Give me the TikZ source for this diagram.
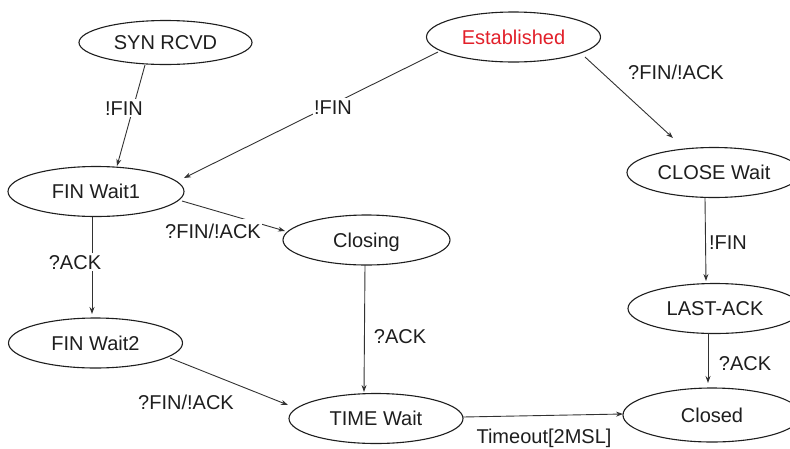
\documentclass[tikz,border=0pt]{standalone}
\usepackage{fontspec}
\setmainfont{Liberation Sans}
\usetikzlibrary{shapes.geometric,arrows.meta,calc}
\definecolor{ink}{RGB}{30,30,30}
\definecolor{edgeink}{RGB}{50,50,50}
\definecolor{estred}{RGB}{226,32,42}
\begin{document}
\begin{tikzpicture}[x=1pt,y=-1pt,
  state/.style={ellipse,draw=ink,line width=1.1pt,fill=white,inner sep=0pt,
    minimum width=174pt,minimum height=50pt,
    font=\fontsize{20}{24}\selectfont,text=ink,text height=14.3pt,text depth=0pt},
  arr/.style={draw=edgeink,line width=0.9pt,-{Stealth[length=7pt,width=5pt]}},
  lbl/.style={font=\fontsize{20}{24}\selectfont,text=ink,inner sep=1.5pt,
    text height=14.3pt,text depth=0pt},
  wlbl/.style={lbl,fill=white}]
\useasboundingbox (0,0) rectangle (790,448);
\clip (0,0) rectangle (790,448);

% states
\node[state,minimum width=173pt,minimum height=44pt] (syn) at (165.5,42.5) {SYN RCVD};
\node[state,text=estred] (est) at (513.5,37) {Established};
\node[state,minimum width=176pt] (fw1) at (96,191.5) {FIN Wait1};
\node[state] (cw) at (714,172.5) {CLOSE Wait};
\node[state,minimum width=167pt] (cls) at (366.5,240) {Closing};
\node[state] (fw2) at (95.5,343) {FIN Wait2};
\node[state] (tw) at (376,418.5) {TIME Wait};
\node[state] (la) at (715,308.5) {LAST-ACK};
\node[state,minimum width=178pt,minimum height=54pt] (cld) at (712,415) {Closed};

% transitions
\draw[arr] ($(syn.center)+(-20.5,22.5)$) -- ($(fw1.center)+(21,-25.5)$);
\draw[arr] ($(est.center)+(-75.5,15)$) -- ($(fw1.center)+(88,-13.5)$);
\draw[arr] ($(est.center)+(71.5,20)$) -- ($(cw.center)+(-41,-34.5)$);
\draw[arr] ($(fw1.center)+(86,9.5)$) -- ($(cls.center)+(-81.5,-9)$);
\draw[arr] ($(fw1.center)+(-4,25.5)$) -- ($(fw2.center)+(-3.5,-29)$);
\draw[arr] ($(cls.center)+(-1.5,25)$) -- ($(tw.center)+(-12,-26.5)$);
\draw[arr] ($(fw2.center)+(74.5,15)$) -- ($(tw.center)+(-88,-13.5)$);
\draw[arr] ($(tw.center)+(87,-1.5)$) -- ($(cld.center)+(-89,-1)$);
\draw[arr] ($(cw.center)+(-9,25.5)$) -- ($(la.center)+(-9,-27.5)$);
\draw[arr] ($(la.center)+(-7,24.5)$) -- ($(cld.center)+(-4,-32)$);

% labels
\node[wlbl] (l1) at (124,108) {!FIN};
\node[wlbl] (l2) at (333,107) {!FIN};
\node[lbl] (l3) at (676,72) {?FIN/!ACK};
\node[wlbl,inner ysep=5pt] (l4) at (213,231) {?FIN/!ACK};
\node[wlbl] (l5) at (75,262) {?ACK};
\node[lbl] (l6) at (400,336) {?ACK};
\node[lbl] (l7) at (186,402) {?FIN/!ACK};
\node[lbl] (l8) at (544,436) {Timeout[2MSL]};
\node[lbl] (l9) at (728,242) {!FIN};
\node[lbl] (l10) at (745,363) {?ACK};
\end{tikzpicture}
\end{document}
